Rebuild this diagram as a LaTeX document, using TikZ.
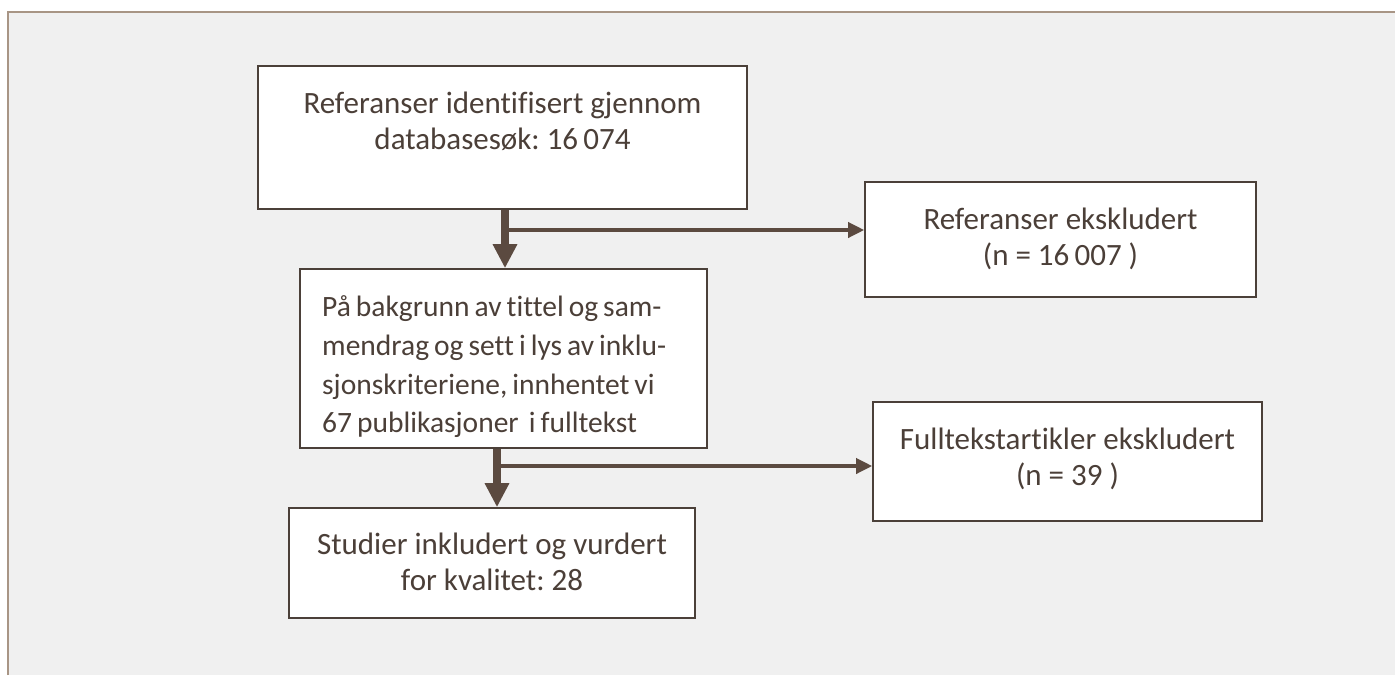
\documentclass[tikz,border=0pt]{standalone}
\usepackage{fontspec}
\setmainfont{Carlito}[Ligatures={NoCommon}]
\frenchspacing
\usetikzlibrary{arrows.meta}
\definecolor{bgc}{HTML}{F0F0F0}
\definecolor{framec}{HTML}{A89585}
\definecolor{boxc}{HTML}{4B4039}
\definecolor{txtc}{HTML}{4B3F38}
\definecolor{arrc}{HTML}{5B4A40}
\newcommand\mynarrowsp{\spaceskip=0.17em plus 0.05em\relax}
\tikzset{
  boxnode/.style={draw=boxc, line width=1.6pt, fill=white, inner sep=0pt},
  txt/.style={text=txtc, font=\fontsize{31}{36}\selectfont, align=center, inner sep=0pt},
  downarr/.style={draw=arrc, line width=8pt, -{Triangle[length=24pt,width=23pt]}},
  sidearr/.style={draw=arrc, line width=3.5pt, -{Triangle[length=16pt,width=15pt]}},
}
\begin{document}
\begin{tikzpicture}[x=1pt,y=-1pt]
\useasboundingbox (0,0) rectangle (1395,675);
\fill[white] (0,0) rectangle (1395,675);
\fill[bgc] (8,12) rectangle (1395,675);
\draw[framec, line width=2.2pt] (8,675) -- (8,12) -- (1395,12);
% boxes
\node[boxnode, minimum width=489pt, minimum height=143pt] (b1) at (502.5,137.5) {};
\node[txt] (t1) at (502.5,121) {Referanser identifisert gjennom\\databasesøk: 16\,074};
\node[boxnode, minimum width=391pt, minimum height=115pt] (b2) at (1060.5,239.5) {};
\node[txt] (t2) at (1060.5,239) {Referanser ekskludert\\(n = 16\,007 )};
\node[boxnode, minimum width=407pt, minimum height=179pt] (b3) at (503.5,358.5) {};
\node[txt, align=left, anchor=west, font=\fontsize{29.5}{38.7}\selectfont\mynarrowsp] (t3) at (322,367) {På bakgrunn av tittel og sam-\\mendrag og sett i lys av inklu-\\sjonskriteriene, innhentet vi\\67 publikasjoner\ \ i fulltekst};
\node[boxnode, minimum width=389pt, minimum height=119pt] (b4) at (1067.5,461.5) {};
\node[txt] (t4) at (1067.5,459) {Fulltekstartikler ekskludert\\(n = 39 )};
\node[boxnode, minimum width=406pt, minimum height=110pt] (b5) at (492,563) {};
\node[txt] (t5) at (492,562) {Studier inkludert og vurdert\\for kvalitet: 28};
% connectors
\coordinate (j1) at (505,230);
\coordinate (j2) at (497,466);
\draw[downarr] (b1.south -| j1) -- (b3.north -| j1);
\draw[sidearr] ([xshift=-1pt]j1) -- (b2.west |- j1);
\draw[downarr] (b3.south -| j2) -- (b5.north -| j2);
\draw[sidearr] ([xshift=-1pt]j2) -- (b4.west |- j2);
\end{tikzpicture}
\end{document}
